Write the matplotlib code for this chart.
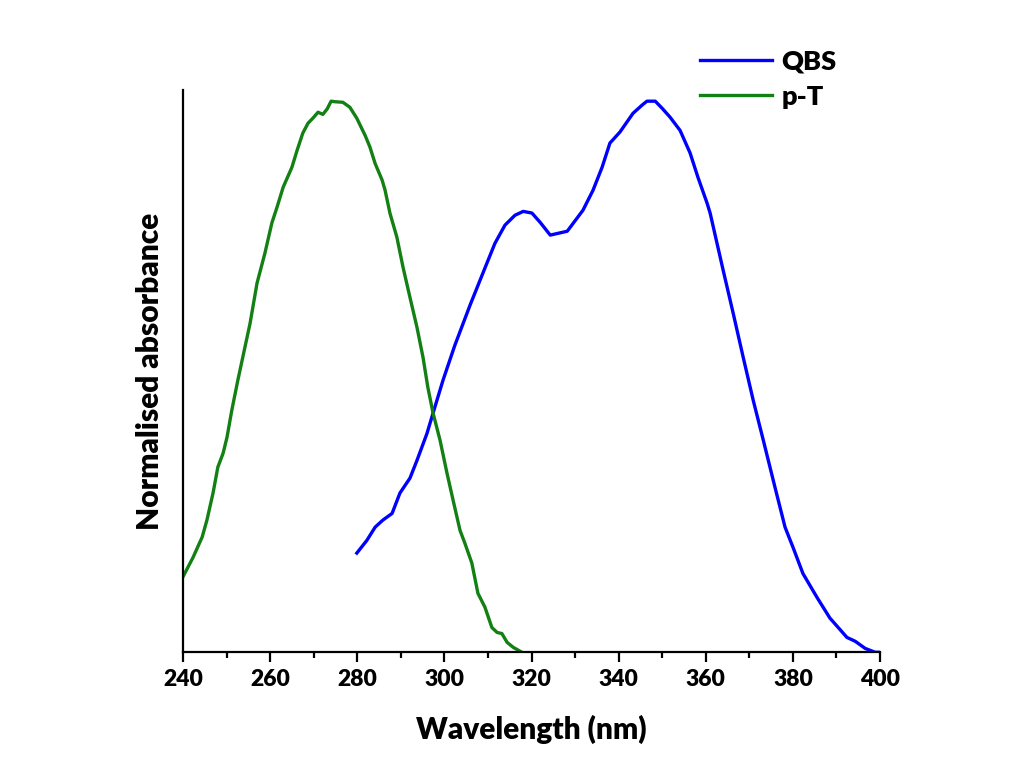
import matplotlib
matplotlib.use("Agg")
import matplotlib.pyplot as plt
from matplotlib.ticker import MultipleLocator

plt.rcParams['font.family'] = ['Lato', 'DejaVu Sans']
plt.rcParams['font.weight'] = 'heavy'

# p-T absorbance (normalised)
pt_wl = [240.0, 242.3, 244.4, 245.5, 246.9, 248.0, 249.2, 250.1, 251.2, 252.6,
         255.4, 257.0, 258.8, 260.4, 261.6, 263.0, 265.0, 266.2, 267.5, 268.7,
         269.8, 271.0, 272.1, 273.1, 274.0, 274.9, 276.7, 278.3, 279.9, 281.8,
         282.9, 284.1, 285.7, 286.4, 287.5, 289.1, 290.5, 292.1, 293.7, 295.1,
         296.2, 297.4, 299.0, 300.6, 302.0, 303.6, 304.7, 306.3, 307.7, 309.3,
         310.9, 312.1, 313.2, 314.4, 315.8, 317.8]
pt_abs = [0.137, 0.172, 0.209, 0.240, 0.289, 0.336, 0.361, 0.390, 0.439, 0.494,
          0.597, 0.670, 0.724, 0.779, 0.808, 0.844, 0.880, 0.911, 0.942, 0.960,
          0.969, 0.980, 0.976, 0.986, 1.000, 0.999, 0.998, 0.989, 0.969, 0.938,
          0.917, 0.887, 0.857, 0.838, 0.797, 0.753, 0.699, 0.644, 0.590, 0.535,
          0.481, 0.434, 0.385, 0.325, 0.276, 0.221, 0.198, 0.162, 0.107, 0.082,
          0.045, 0.036, 0.034, 0.018, 0.009, 0.0]

# QBS absorbance (normalised)
qbs_wl = [279.9, 282.2, 284.1, 285.9, 288.0, 289.8, 292.1, 293.7, 296.0, 297.4,
          299.7, 302.4, 305.9, 309.3, 311.6, 313.9, 316.2, 318.1, 320.1, 322.0,
          324.3, 328.2, 331.8, 334.1, 336.2, 338.0, 340.3, 343.3, 345.4, 346.5,
          348.4, 350.0, 351.8, 354.1, 356.4, 358.2, 360.3, 361.0, 364.0, 366.3,
          368.6, 370.9, 373.2, 375.9, 378.2, 380.0, 382.3, 385.5, 388.5, 390.4,
          392.4, 394.3, 396.6, 398.9, 399.6]
qbs_abs = [0.180, 0.203, 0.227, 0.240, 0.252, 0.289, 0.316, 0.348, 0.397, 0.434,
           0.494, 0.557, 0.630, 0.697, 0.742, 0.775, 0.793, 0.800, 0.797, 0.780,
           0.757, 0.764, 0.802, 0.838, 0.880, 0.924, 0.944, 0.978, 0.993, 1.000,
           1.000, 0.987, 0.971, 0.947, 0.906, 0.862, 0.815, 0.797, 0.693, 0.615,
           0.535, 0.457, 0.385, 0.299, 0.227, 0.191, 0.143, 0.100, 0.062, 0.045,
           0.027, 0.020, 0.007, 0.0, 0.0]

fig = plt.figure(figsize=(10.24, 7.84), dpi=100)
ax = fig.add_axes([0.1787, 0.168, 0.6807, 0.717])

ax.plot(qbs_wl, qbs_abs, color='#0000ff', lw=2.4, label='QBS')
ax.plot(pt_wl, pt_abs, color='#138013', lw=2.4, label='p-T')

ax.set_xlim(240, 400)
ax.set_ylim(0, 1.02)
ax.xaxis.set_major_locator(MultipleLocator(20))
ax.xaxis.set_minor_locator(MultipleLocator(10))
ax.set_yticks([])
for s in ['top', 'right']:
    ax.spines[s].set_visible(False)
for s in ['left', 'bottom']:
    ax.spines[s].set_linewidth(1.6)
ax.tick_params(axis='x', which='major', length=7, width=1.6, labelsize=16.5, pad=5)
ax.tick_params(axis='x', which='minor', length=4, width=1.6)
for t in ax.get_xticklabels():
    t.set_fontweight('heavy')

ax.set_xlabel('Wavelength (nm)', fontsize=21.5, fontweight='heavy', labelpad=18)
ax.set_ylabel('Normalised absorbance', fontsize=21.5, fontweight='heavy', labelpad=14)

ax.legend(loc='upper left', bbox_to_anchor=(0.707, 1.115), frameon=False,
          handlelength=2.65, handletextpad=0.35, labelspacing=0.4,
          prop={'weight': 'heavy', 'size': 19.5})

fig.savefig('out.png', dpi=100)
